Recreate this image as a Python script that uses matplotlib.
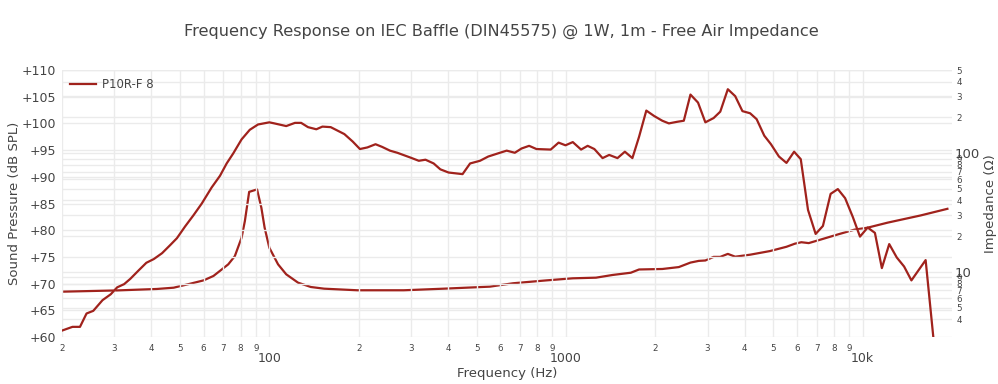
import matplotlib
matplotlib.use("Agg")
import matplotlib.pyplot as plt
from matplotlib.ticker import FixedLocator, FixedFormatter, NullFormatter

# SPL curve (Hz, dB)
spl_freq = [20, 21.7, 23.0, 24.2, 25.5, 27.4, 29.2, 30.7, 32.4, 34.0,
            36.3, 38.5, 40.8, 43.5, 46.3, 48.8, 52.0, 55.5, 59.2, 63.9,
            68.2, 71.8, 75.6, 80.6, 85.9, 91.6, 100, 104, 114, 122,
            128, 135, 144, 151, 161, 179, 191, 202, 214, 228,
            240, 255, 270, 299, 319, 336, 358, 377, 402, 448,
            475, 513, 547, 591, 631, 672, 708, 751, 795, 888,
            944, 996, 1054, 1124, 1183, 1246, 1328, 1398, 1491, 1579,
            1674, 1763, 1865, 1980, 2111, 2222, 2369, 2495, 2627, 2786,
            2949, 3144, 3311, 3511, 3718, 3932, 4173, 4390, 4659, 4907,
            5220, 5535, 5873, 6184, 6542, 6941, 7345, 7796, 8246, 8725,
            9259, 9793, 10394, 10996, 11605, 12287, 13025, 13790, 14597, 16300,
            17300]
spl_db = [61.2, 61.9, 61.9, 64.4, 64.9, 66.9, 68.0, 69.3, 69.9, 70.9,
          72.5, 73.9, 74.6, 75.7, 77.2, 78.5, 80.7, 82.8, 85.0, 88.0,
          90.2, 92.5, 94.4, 97.0, 98.8, 99.8, 100.2, 100.0, 99.5, 100.1,
          100.1, 99.3, 98.9, 99.4, 99.3, 98.0, 96.6, 95.2, 95.5, 96.1,
          95.6, 94.9, 94.5, 93.6, 93.0, 93.2, 92.5, 91.4, 90.8, 90.5,
          92.5, 93.0, 93.8, 94.4, 94.9, 94.5, 95.3, 95.8, 95.2, 95.1,
          96.4, 95.9, 96.5, 95.1, 95.8, 95.2, 93.5, 94.1, 93.5, 94.7,
          93.5, 97.5, 102.4, 101.4, 100.5, 100.0, 100.3, 100.5, 105.4, 103.9,
          100.2, 101.0, 102.2, 106.4, 105.1, 102.3, 101.9, 100.8, 97.7, 96.1,
          93.8, 92.6, 94.7, 93.3, 83.8, 79.3, 80.8, 86.8, 87.7, 86.0,
          82.5, 78.8, 80.5, 79.5, 72.9, 77.4, 74.9, 73.2, 70.6, 74.4,
          60.0]

# free air impedance (Hz, ohm)
imp_freq = [20, 30.7, 41.8, 47.6, 54.1, 60.0, 64.8, 69.1, 72.7, 76.5,
            80.6, 82.7, 85.5, 90.9, 94.0, 96.4, 100, 107, 114, 125,
            138, 153, 198, 284, 387, 554, 663, 858, 1054, 1262,
            1435, 1653, 1763, 2111, 2400, 2627, 2801, 2949, 3144, 3311,
            3511, 3718, 4173, 4869, 5535, 5906, 6213, 6578, 7249, 8246,
            9380, 10394, 12130, 15680, 19300]
imp_ohm = [6.83, 7.0, 7.2, 7.38, 7.97, 8.5, 9.26, 10.5, 11.6, 13.6,
           19.4, 26.8, 47.2, 49.5, 34.7, 23.6, 16.0, 11.6, 9.56, 8.13,
           7.48, 7.24, 7.02, 7.02, 7.24, 7.53, 8.04, 8.5, 8.85, 8.96,
           9.44, 9.86, 10.5, 10.6, 11.0, 12.0, 12.4, 12.5, 13.4, 13.4,
           14.2, 13.45, 13.98, 15.0, 16.3, 17.3, 17.8, 17.5, 18.8, 20.7,
           22.7, 23.6, 26.0, 29.9, 34.0]

db_ticks = [60, 65, 70, 75, 80, 85, 90, 95, 100, 105, 110]
db_labels = ["+%d" % v for v in db_ticks]

line_col = "#a0221c"
txt_col = "#444444"
grid_col = "#ebebeb"

fig = plt.figure(figsize=(9.98, 3.84), dpi=100)
ax = fig.add_axes([0.0621, 0.1224, 0.8918, 0.6953])
ax2 = ax.twinx()
ax.set_zorder(ax2.get_zorder() + 1)
ax.patch.set_visible(False)

ax.plot(spl_freq, spl_db, color=line_col, lw=1.6, label="P10R-F 8")
ax2.plot(imp_freq, imp_ohm, color=line_col, lw=1.6)

ax.set_xscale("log")
ax.set_xlim(20, 20000)
ax.set_ylim(60, 110)
ax2.set_yscale("log")
ax2.set_ylim(2.84, 500)

# x ticks
xmaj = [100, 1000, 10000]
xmin = [m * d for d in (10, 100, 1000) for m in range(2, 10)]
ax.xaxis.set_major_locator(FixedLocator(xmaj))
ax.xaxis.set_major_formatter(FixedFormatter(["100", "1000", "10k"]))
ax.xaxis.set_minor_locator(FixedLocator(xmin))
ax.xaxis.set_minor_formatter(FixedFormatter([str(m) for d in range(3) for m in range(2, 10)]))
ax.tick_params(axis="x", which="major", length=0, pad=11, labelsize=9, colors=txt_col)
ax.tick_params(axis="x", which="minor", length=0, pad=5, labelsize=6.3, colors=txt_col)

# left y
ax.set_yticks(db_ticks)
ax.set_yticklabels(db_labels)
ax.tick_params(axis="y", length=0, pad=4, labelsize=9, colors=txt_col)
ax.yaxis.set_minor_formatter(NullFormatter())

# right y
ymaj = [10, 100]
ymin = [4, 5, 6, 7, 8, 9, 20, 30, 40, 50, 60, 70, 80, 90, 200, 300, 400, 500]
ax2.yaxis.set_major_locator(FixedLocator(ymaj))
ax2.yaxis.set_major_formatter(FixedFormatter(["10", "100"]))
ax2.yaxis.set_minor_locator(FixedLocator(ymin))
ax2.yaxis.set_minor_formatter(FixedFormatter([str(int(str(v)[0])) for v in ymin]))
ax2.tick_params(axis="y", which="major", length=0, pad=2, labelsize=9.5, colors=txt_col)
ax2.tick_params(axis="y", which="minor", length=0, pad=3, labelsize=6.3, colors=txt_col)

# grids
ax.grid(True, which="both", axis="x", color=grid_col, lw=1)
ax.grid(True, which="major", axis="y", color=grid_col, lw=1)
ax2.grid(True, which="both", axis="y", color=grid_col, lw=1)
ax.set_axisbelow(True)
ax2.set_axisbelow(True)

for a in (ax, ax2):
    for s in a.spines.values():
        s.set_visible(False)

ax.set_xlabel("Frequency (Hz)", fontsize=9.5, color=txt_col, labelpad=1)
ax.set_ylabel("Sound Pressure (dB SPL)", fontsize=9.5, color=txt_col, labelpad=1)
ax2.set_ylabel("Impedance (\u03a9)", fontsize=9.5, color=txt_col, labelpad=3)

fig.text(0.502, 0.918, "Frequency Response on IEC Baffle (DIN45575) @ 1W, 1m - Free Air Impedance",
         ha="center", va="center", fontsize=11.6, color=txt_col)

leg = ax.legend(loc="upper left", bbox_to_anchor=(0.0, 1.0), frameon=False,
                fontsize=8.5, handlelength=2.2, handletextpad=0.5, borderaxespad=0.25)
for t in leg.get_texts():
    t.set_color(txt_col)

fig.savefig("out.png", dpi=100)
